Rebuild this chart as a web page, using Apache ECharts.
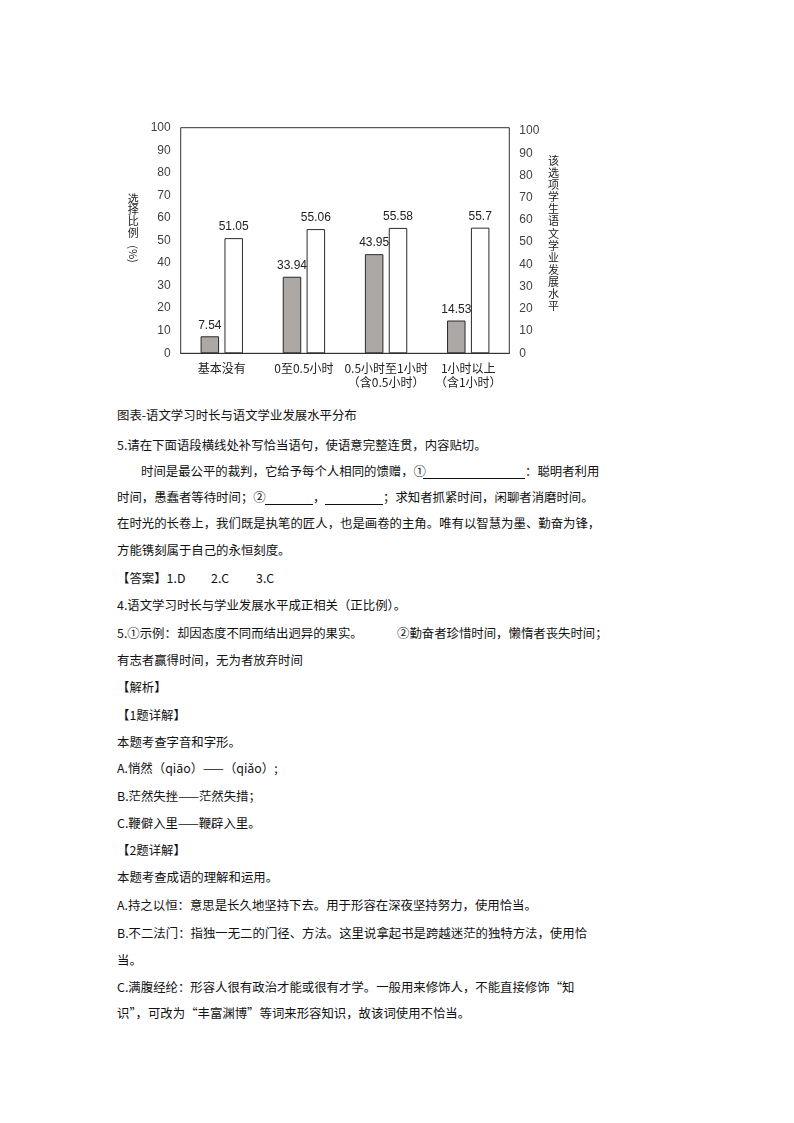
<!DOCTYPE html>
<html><head><meta charset="utf-8">
<script src="https://cdn.jsdelivr.net/npm/echarts@6/dist/echarts.min.js"></script>
<style>
html,body{margin:0;padding:0;background:#fff;}
#chart{position:absolute;left:0;top:0;width:794px;height:400px;}
.ln{position:absolute;white-space:nowrap;font-family:"Noto Sans CJK SC",sans-serif;font-size:12.4px;line-height:20px;height:20px;color:#111;}
.ul{position:absolute;height:0;border-bottom:1px solid #111;}
</style></head>
<body>
<div id="chart"></div>

<div class="ln" style="left:117px;top:405px;">图表-语文学习时长与语文学业发展水平分布</div>
<div class="ln" style="left:117px;top:435px;">5.请在下面语段横线处补写恰当语句，使语意完整连贯，内容贴切。</div>
<div class="ln" style="left:141px;top:461px;">时间是最公平的裁判，它给予每个人相同的馈赠，①</div>
<div class="ul" style="left:423px;width:102px;top:478px;"></div>
<div class="ln" style="left:525px;top:461px;">：聪明者利用</div>
<div class="ln" style="left:117px;top:487px;">时间，愚蠢者等待时间；②</div>
<div class="ul" style="left:265px;width:48px;top:504px;"></div>
<div class="ln" style="left:313px;top:487px;">，</div>
<div class="ul" style="left:325px;width:58px;top:504px;"></div>
<div class="ln" style="left:383px;top:487px;">；求知者抓紧时间，闲聊者消磨时间。</div>
<div class="ln" style="left:117px;top:513px;">在时光的长卷上，我们既是执笔的匠人，也是画卷的主角。唯有以智慧为墨、勤奋为锋，</div>
<div class="ln" style="left:117px;top:540px;">方能镌刻属于自己的永恒刻度。</div>
<div class="ln" style="left:117px;top:568px;">【答案】1.D</div>
<div class="ln" style="left:211px;top:568px;">2.C</div>
<div class="ln" style="left:256px;top:568px;">3.C</div>
<div class="ln" style="left:117px;top:595px;">4.语文学习时长与学业发展水平成正相关（正比例）。</div>
<div class="ln" style="left:117px;top:623px;">5.①示例：却因态度不同而结出迥异的果实。</div>
<div class="ln" style="left:397px;top:623px;">②勤奋者珍惜时间，懒惰者丧失时间；</div>
<div class="ln" style="left:117px;top:650px;">有志者赢得时间，无为者放弃时间</div>
<div class="ln" style="left:117px;top:677px;">【解析】</div>
<div class="ln" style="left:117px;top:705px;">【1题详解】</div>
<div class="ln" style="left:117px;top:732px;">本题考查字音和字形。</div>
<div class="ln" style="left:117px;top:758px;">A.悄然（qiāo）——（qiǎo）;</div>
<div class="ln" style="left:117px;top:786px;">B.茫然失挫——茫然失措；</div>
<div class="ln" style="left:117px;top:813px;">C.鞭僻入里——鞭辟入里。</div>
<div class="ln" style="left:117px;top:840px;">【2题详解】</div>
<div class="ln" style="left:117px;top:867px;">本题考查成语的理解和运用。</div>
<div class="ln" style="left:117px;top:895px;">A.持之以恒：意思是长久地坚持下去。用于形容在深夜坚持努力，使用恰当。</div>
<div class="ln" style="left:117px;top:923px;">B.不二法门：指独一无二的门径、方法。这里说拿起书是跨越迷茫的独特方法，使用恰</div>
<div class="ln" style="left:117px;top:950px;">当。</div>
<div class="ln" style="left:117px;top:977px;">C.满腹经纶：形容人很有政治才能或很有才学。一般用来修饰人，不能直接修饰“知</div>
<div class="ln" style="left:117px;top:1003px;">识”，可改为“丰富渊博”等词来形容知识，故该词使用不恰当。</div>

<script>
const categories = ['基本没有', '0至0.5小时', '0.5小时至1小时\n（含0.5小时）', '1小时以上\n（含1小时）'];
const choiceRatio = [7.54, 33.94, 43.95, 14.53];
const levelScore = [51.05, 55.06, 55.58, 55.7];
const leftNameChars = ['选', '择', '比', '例'];
const leftNameUnit = '(%)';
const rightNameChars = ['该', '选', '项', '学', '生', '语', '文', '学', '业', '发', '展', '水', '平'];

const chart = echarts.init(document.getElementById('chart'), null, {renderer: 'canvas'});
const numFont = 'Liberation Sans, Arial, sans-serif';
const cjkFont = 'Noto Sans CJK SC, sans-serif';
const labelStyle = {show: true, position: 'top', distance: 5, fontSize: 12, color: '#222', fontFamily: numFont};
chart.setOption({
  animation: false,
  grid: {left: 180.7, right: 284.7, top: 127.7, bottom: 46.7, show: true, borderColor: '#333', borderWidth: 1, backgroundColor: 'transparent'},
  xAxis: {
    type: 'category', data: categories,
    axisLine: {show: true, lineStyle: {color: '#333', width: 1}},
    axisTick: {show: false},
    axisLabel: {interval: 0, margin: 8, fontSize: 12, lineHeight: 14, color: '#222', fontFamily: cjkFont}
  },
  yAxis: [
    {type: 'value', min: 0, max: 100, interval: 10,
     axisLine: {show: false}, axisTick: {show: false}, splitLine: {show: false},
     axisLabel: {margin: 10, fontSize: 12, color: '#404040', fontFamily: numFont}},
    {type: 'value', min: 0, max: 101.5, interval: 10, position: 'right',
     axisLine: {show: false}, axisTick: {show: false}, splitLine: {show: false},
     axisLabel: {margin: 10, fontSize: 12, color: '#404040', fontFamily: numFont, showMaxLabel: false}}
  ],
  series: [
    {type: 'bar', name: '选择比例', data: choiceRatio, yAxisIndex: 0, barWidth: 18.5, barGap: '29%',
     itemStyle: {color: '#aca8a6', borderColor: '#2a2a2a', borderWidth: 1}, label: labelStyle},
    {type: 'bar', name: '该选项学生语文学业发展水平', data: levelScore, yAxisIndex: 0, barWidth: 18.5,
     itemStyle: {color: '#ffffff', borderColor: '#2a2a2a', borderWidth: 1}, label: labelStyle}
  ],
  graphic: [
    {type: 'text', x: 133.3, y: 193, style: {text: leftNameChars.join('\n'), lineHeight: 11.3, fill: '#222', font: '11px ' + cjkFont, align: 'center', verticalAlign: 'top'}},
    {type: 'text', x: 133.3, y: 254, rotation: -Math.PI / 2, style: {text: leftNameUnit, fill: '#222', font: '11px ' + cjkFont, align: 'center', verticalAlign: 'middle'}},
    {type: 'text', x: 553.5, y: 155, style: {text: rightNameChars.join('\n'), lineHeight: 12.05, fill: '#222', font: '11px ' + cjkFont, align: 'center', verticalAlign: 'top'}}
  ]
});
</script>
</body></html>
